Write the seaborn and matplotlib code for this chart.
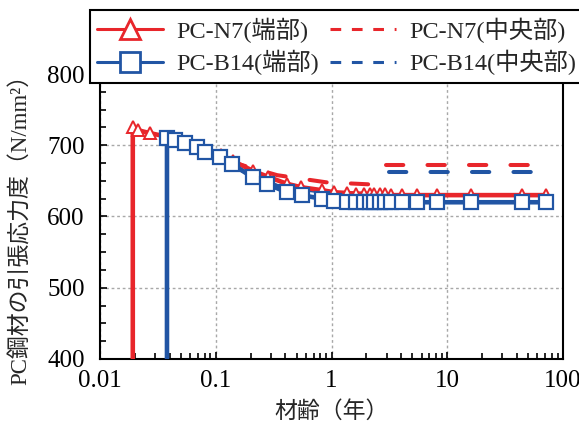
import numpy as np
import pandas as pd
import matplotlib.pyplot as plt
import seaborn as sns
from matplotlib.lines import Line2D
from matplotlib.ticker import MultipleLocator, LogLocator, NullFormatter, FixedLocator, FixedFormatter

RED = '#E8262B'
BLUE = '#2155A4'

# 端部 series (first point = before tensioning)
n7_end_age = [0.0192, 0.0192, 0.0214, 0.027, 0.038, 0.045, 0.055, 0.07, 0.082, 0.11, 0.14,
              0.21, 0.28, 0.41, 0.55, 0.82, 1.06, 1.35, 1.64, 1.92, 2.13, 2.35, 2.6, 2.87,
              3.29, 4.1, 5.5, 8.2, 16, 44, 71]
n7_end_stress = [0, 725, 721, 717, 712, 708, 704, 698, 692, 686, 678,
                 664, 656, 646, 641, 637, 634, 633, 632, 632, 631, 631, 631, 631,
                 630, 630, 630, 630, 630, 630, 630]

b14_end_age = [0.0379, 0.0379, 0.0444, 0.054, 0.0686, 0.0803, 0.108, 0.137, 0.208, 0.275,
               0.409, 0.551, 0.82, 1.06, 1.35, 1.64, 1.92, 2.13, 2.35, 2.6, 2.87, 3.29,
               4.09, 5.51, 8.2, 16.1, 44.3, 71.3]
b14_end_stress = [0, 710, 707, 703, 697, 690, 683, 674, 655, 646,
                  634, 630, 625, 622, 621, 621, 620, 620, 620, 620, 620, 620,
                  620, 620, 620, 620, 620, 620]

# 中央部 series (two measured segments)
n7_mid_age = [0.06, 0.12, 0.34, 0.9, 2.2, 2.9, 2.98, 70]
n7_mid_stress = [698, 679, 658, 648, 645, 644, 672, 672]
n7_mid_seg = [1, 1, 1, 1, 1, 1, 2, 2]

b14_mid_age = [0.06, 0.12, 0.34, 0.9, 2.2, 3.0, 3.16, 70]
b14_mid_stress = [694, 675, 643, 634, 631, 630, 662, 662]
b14_mid_seg = [1, 1, 1, 1, 1, 1, 2, 2]

sns.set_style('ticks')
plt.rcParams['font.family'] = ['Liberation Serif', 'Noto Sans CJK JP']
plt.rcParams['axes.unicode_minus'] = False

fig = plt.figure(figsize=(5.79, 4.21), dpi=100)
ax = fig.add_axes([0.1727, 0.1473, 0.7997, 0.6769])

dash = (0, (4.3, 6.0))
sns.lineplot(x=n7_mid_age, y=n7_mid_stress, units=n7_mid_seg, estimator=None, sort=False,
             color=RED, lw=2.9, linestyle=dash, dash_capstyle='round', ax=ax, zorder=2)
sns.lineplot(x=b14_mid_age, y=b14_mid_stress, units=b14_mid_seg, estimator=None, sort=False,
             color=BLUE, lw=2.9, linestyle=dash, dash_capstyle='round', ax=ax, zorder=2)

sns.lineplot(x=n7_end_age, y=n7_end_stress, estimator=None, sort=False, color=RED, lw=3.3,
             marker='^', markersize=9, markerfacecolor='white', markeredgecolor=RED,
             markeredgewidth=1.4, markevery=slice(1, None), ax=ax, zorder=3)
sns.lineplot(x=b14_end_age, y=b14_end_stress, estimator=None, sort=False, color=BLUE, lw=3.3,
             marker='s', markersize=9.5, markerfacecolor='white', markeredgecolor=BLUE,
             markeredgewidth=1.6, markevery=slice(1, None), ax=ax, zorder=4)

ax.set_xscale('log')
ax.set_xlim(0.01, 100)
ax.set_ylim(400, 800)
ax.xaxis.set_major_locator(FixedLocator([0.01, 0.1, 1, 10, 100]))
ax.xaxis.set_major_formatter(FixedFormatter(['0.01', '0.1', '1', '10', '100']))
ax.xaxis.set_minor_locator(LogLocator(base=10, subs=np.arange(2, 10)))
ax.xaxis.set_minor_formatter(NullFormatter())
ax.yaxis.set_major_locator(MultipleLocator(100))
ax.yaxis.set_minor_locator(MultipleLocator(25))

ax.grid(True, which='major', color='#a8a8a8', linestyle=(0, (2, 2)), lw=1.0)
ax.tick_params(which='both', direction='in', labelsize=18, width=1.2, colors='black')
ax.tick_params(which='major', length=5, pad=8)
ax.tick_params(which='minor', length=4)
ax.tick_params(axis='y', pad=11)
for s in ax.spines.values():
    s.set_linewidth(1.5)
    s.set_color('black')

ax.set_xlabel('材齢（年）', fontsize=16.5, labelpad=6)
ax.set_ylabel('PC鋼材の引張応力度（N/mm²）', fontsize=16.5)
ax.yaxis.set_label_coords(-0.147, 0.474)

handles = [
    Line2D([], [], color=RED, lw=2.2, marker='^', markersize=15, markerfacecolor='white',
           markeredgecolor=RED, markeredgewidth=2),
    Line2D([], [], color=BLUE, lw=2.2, marker='s', markersize=14, markerfacecolor='white',
           markeredgecolor=BLUE, markeredgewidth=2),
    Line2D([], [], color=RED, lw=2.2, linestyle=(0, (3.5, 3.5))),
    Line2D([], [], color=BLUE, lw=2.2, linestyle=(0, (3.5, 3.5))),
]
labels = ['PC-N7(端部)', 'PC-B14(端部)', 'PC-N7(中央部)', 'PC-B14(中央部)']
leg = fig.legend(handles, labels, ncol=2, loc='upper left', bbox_to_anchor=(90 / 579, 1 - 10 / 421),
                 fontsize=17.5, frameon=True, fancybox=False, borderaxespad=0, borderpad=0.3,
                 labelspacing=0.3, handlelength=2.7, handletextpad=0.55, columnspacing=0.45)
leg.get_frame().set_edgecolor('black')
leg.get_frame().set_linewidth(1.5)
leg.get_frame().set_alpha(1)

fig.savefig('out.png', dpi=100)
